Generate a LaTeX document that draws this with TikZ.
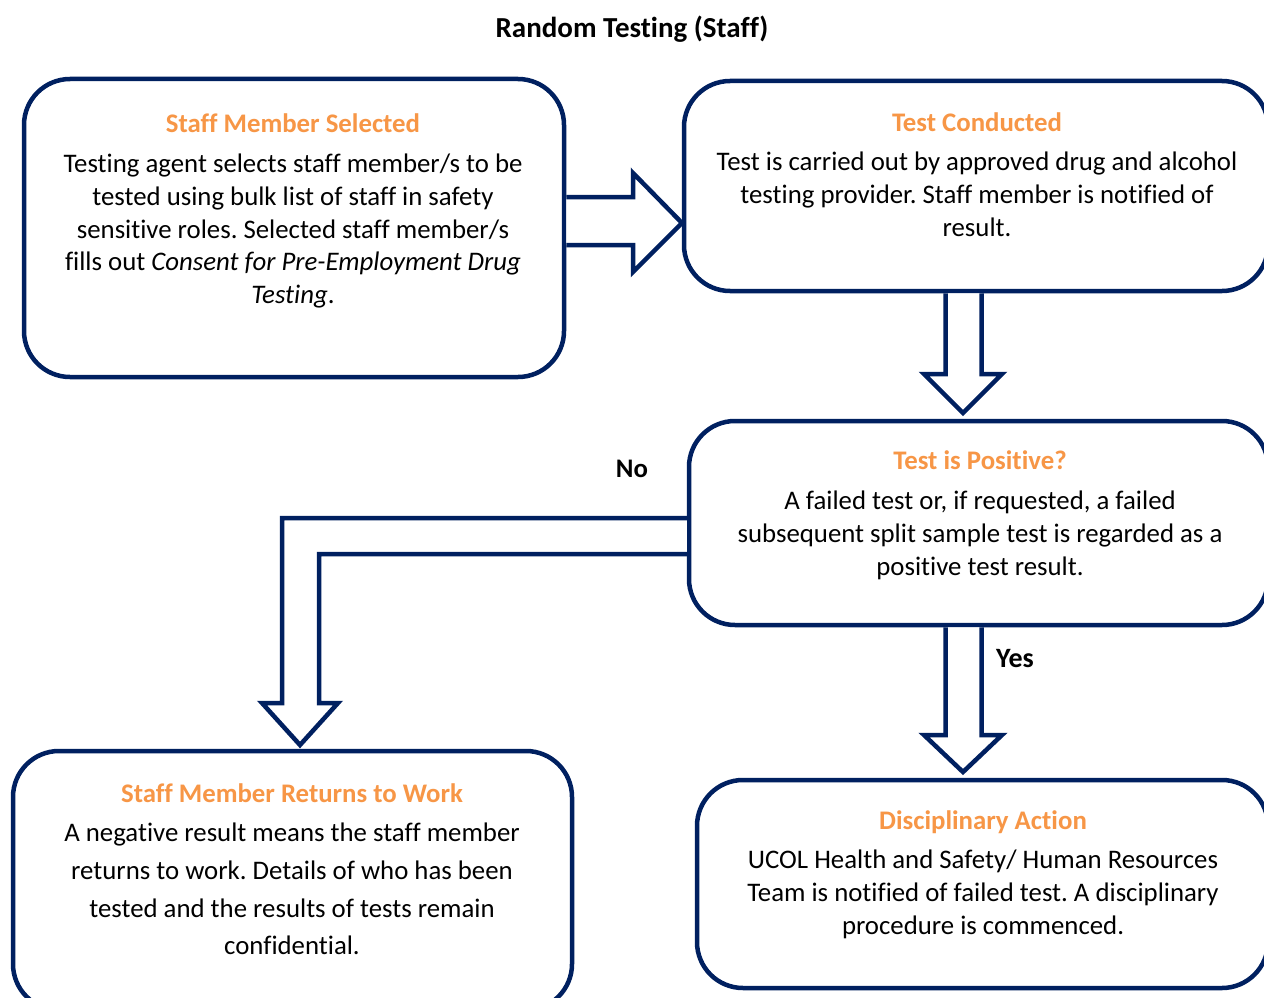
\documentclass[tikz,border=0pt]{standalone}
\usepackage{fontspec}
\setmainfont{Carlito}[Ligatures=NoCommon]
\definecolor{navy}{HTML}{002060}
\definecolor{orng}{HTML}{F79646}
\begin{document}
\frenchspacing
\begin{tikzpicture}[x=1pt,y=-1pt,
  box/.style={draw=navy, line width=4.5pt, rounded corners=46pt, inner sep=0pt, fill=white},
  blockarrow/.style={draw=navy, line width=4.5pt, line join=miter, fill=white},
  ttl/.style={anchor=base, inner sep=0pt, text=orng, font=\fontsize{26.8pt}{32pt}\selectfont\bfseries},
  body/.style={anchor=north, inner sep=0pt, align=center, font=\fontsize{26.8pt}{32.7pt}\selectfont},
  lbl/.style={anchor=base, inner sep=0pt, font=\fontsize{26.8pt}{32pt}\selectfont\bfseries}]
\useasboundingbox (0,0) rectangle (1264,998);
\clip (0,0) rectangle (1264,998);
\fill[white] (0,0) rectangle (1264,998);

% boxes
\node[box, minimum width=540pt, minimum height=298pt] (b1) at (294,228) {};
\node[box, minimum width=584pt, minimum height=210pt] (b2) at (976,186) {};
\node[box, minimum width=579pt, minimum height=204pt] (b3) at (978.5,523) {};
\node[box, minimum width=559pt, minimum height=259pt] (b4) at (292.5,880.5) {};
\node[box, minimum width=571pt, minimum height=208pt] (b5) at (982.5,884) {};

% title
\node[lbl, font=\fontsize{29pt}{34pt}\selectfont\bfseries] (title) at (632,38) {Random Testing (Staff)};

% box texts
\node[ttl] (t1) at (293,132) {Staff Member Selected};
\node[body] (x1) at (293,154) {Testing agent selects staff member/s to be\\
tested using bulk list of staff in safety\\
sensitive roles. Selected staff member/s\\
fills out \textit{Consent for Pre-Employment Drug}\\
\textit{Testing}.};

\node[ttl] (t2) at (977,131) {Test Conducted};
\node[body] (x2) at (977,152) {Test is carried out by approved drug and alcohol\\
testing provider. Staff member is notified of\\
result.};

\node[ttl] (t3) at (980,469) {Test is Positive?};
\node[body] (x3) at (980,491) {A failed test or, if requested, a failed\\
subsequent split sample test is regarded as a\\
positive test result.};

\node[ttl] (t4) at (292,802) {Staff Member Returns to Work};
\node[body, font=\fontsize{26.8pt}{37.6pt}\selectfont] (x4) at (292,823) {A negative result means the staff member\\
returns to work. Details of who has been\\
tested and the results of tests remain\\
confidential.};

\node[ttl] (t5) at (983,829) {Disciplinary Action};
\node[body] (x5) at (983,850) {UCOL Health and Safety/ Human Resources\\
Team is notified of failed test. A disciplinary\\
procedure is commenced.};

% block arrows
\draw[blockarrow] (b1.east |- 0,197) -- (633,197) -- (633,173) -- (682,223) -- (633,272) -- (633,245) -- (b1.east |- 0,245);
\draw[blockarrow] (945.5,0 |- b2.south) -- (945.5,374) -- (924,374) -- (963,413) -- (1002,374) -- (981.5,374) -- (981.5,0 |- b2.south);
\draw[blockarrow] (b3.west |- 0,518) -- (282,518) -- (282,703) -- (262,703) -- (300,745) -- (338,703) -- (319,703) -- (319,554) -- (b3.west |- 0,554);
\draw[blockarrow] (945.5,0 |- b3.south) -- (945.5,735) -- (924,735) -- (963,772) -- (1002,735) -- (981.5,735) -- (981.5,0 |- b3.south);

% branch labels
\node[lbl] (no) at (632,477) {No};
\node[lbl, font=\fontsize{28pt}{32pt}\selectfont\bfseries] (yes) at (1015,667) {Yes};
\end{tikzpicture}
\end{document}
